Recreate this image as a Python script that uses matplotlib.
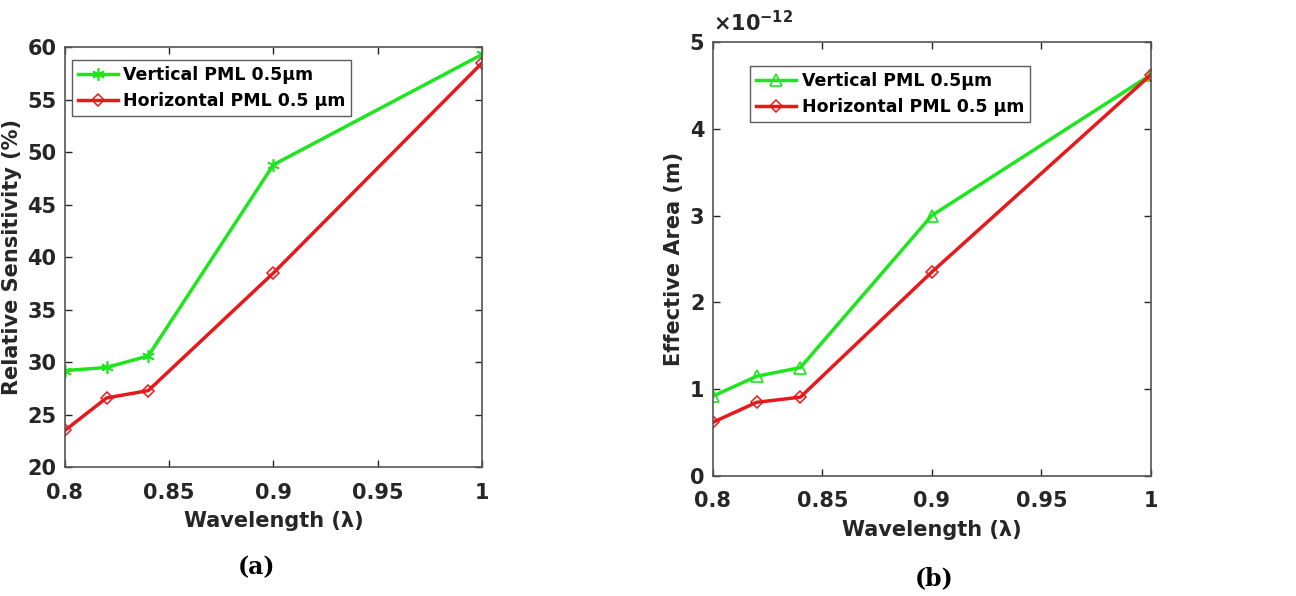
import numpy as np
import matplotlib.pyplot as plt

wavelength = [0.80, 0.82, 0.84, 0.90, 1.00]

sens_vertical = [29.2, 29.5, 30.6, 48.8, 59.3]
sens_horizontal = [23.5, 26.6, 27.3, 38.5, 58.5]

area_vertical = [0.92e-12, 1.15e-12, 1.25e-12, 3.00e-12, 4.62e-12]
area_horizontal = [0.62e-12, 0.85e-12, 0.91e-12, 2.35e-12, 4.62e-12]

label_v = 'Vertical PML 0.5µm'
label_h = 'Horizontal PML 0.5 µm'

green = '#1ee61e'
red = '#e8191c'
dark = '#262626'

plt.rcParams['font.family'] = 'DejaVu Sans'
plt.rcParams['font.weight'] = 'bold'

fig = plt.figure(figsize=(12.96, 5.96), dpi=100)
ax1 = fig.add_axes([0.050, 0.216, 0.322, 0.705])
ax2 = fig.add_axes([0.550, 0.201, 0.338, 0.729])


def style(ax):
    ax.tick_params(direction='in', length=5, width=1, colors=dark,
                   labelsize=15, top=True, right=True, pad=6)
    ax.tick_params(axis='x', pad=11)
    for s in ax.spines.values():
        s.set_color('#555555')
        s.set_linewidth(1.2)
    for lab in ax.get_xticklabels() + ax.get_yticklabels():
        lab.set_fontweight('bold')


def legend(ax, anchor):
    leg = ax.legend(loc='upper left', bbox_to_anchor=anchor, fontsize=12.5,
                    frameon=True, fancybox=False, edgecolor='#333333',
                    handlelength=2.3, borderpad=0.35, labelspacing=0.45,
                    handletextpad=0.3, borderaxespad=0.4)
    leg.get_frame().set_linewidth(1.0)
    for t in leg.get_texts():
        t.set_fontweight('bold')


# (a) relative sensitivity
ax1.plot(wavelength, sens_vertical, color=green, lw=2.5, marker=(6, 2, 0),
         ms=9, mew=1.2, label=label_v)
ax1.plot(wavelength, sens_horizontal, color=red, lw=2.5, marker='D',
         ms=6.5, mfc='none', mew=1.1, label=label_h)
ax1.set_xlim(0.8, 1.0)
ax1.set_ylim(20, 60)
ax1.set_xticks([0.8, 0.85, 0.9, 0.95, 1.0])
ax1.set_xticklabels(['0.8', '0.85', '0.9', '0.95', '1'])
ax1.set_yticks(np.arange(20, 61, 5))
ax1.set_xlabel('Wavelength (λ)', fontsize=15, fontweight='bold', color=dark, labelpad=6)
ax1.set_ylabel('Relative Sensitivity (%)', fontsize=15, fontweight='bold', color=dark)
style(ax1)
legend(ax1, (0.0, 0.985))

# (b) effective area
ax2.plot(wavelength, area_vertical, color=green, lw=2.5, marker='^',
         ms=9, mfc='none', mew=1.2, label=label_v)
ax2.plot(wavelength, area_horizontal, color=red, lw=2.5, marker='D',
         ms=6.5, mfc='none', mew=1.1, label=label_h)
ax2.set_xlim(0.8, 1.0)
ax2.set_ylim(0, 5e-12)
ax2.set_xticks([0.8, 0.85, 0.9, 0.95, 1.0])
ax2.set_xticklabels(['0.8', '0.85', '0.9', '0.95', '1'])
ax2.set_yticks(np.arange(0, 6) * 1e-12)
ax2.set_yticklabels([str(i) for i in range(6)])
ax2.text(0.0, 1.015, r'$\times$10$^{\mathbf{-12}}$', transform=ax2.transAxes,
         fontsize=15, fontweight='bold', color=dark, ha='left', va='bottom')
ax2.set_xlabel('Wavelength (λ)', fontsize=15, fontweight='bold', color=dark, labelpad=6)
ax2.set_ylabel('Effective Area (m)', fontsize=15, fontweight='bold', color=dark)
style(ax2)
legend(ax2, (0.07, 0.96))

fig.text(257 / 1296, 1 - 567 / 596, '(a)', fontsize=17, fontweight='bold',
         family='DejaVu Serif', ha='center', va='center')
fig.text(934 / 1296, 1 - 578 / 596, '(b)', fontsize=17, fontweight='bold',
         family='DejaVu Serif', ha='center', va='center')

fig.savefig('out.png', dpi=100)
